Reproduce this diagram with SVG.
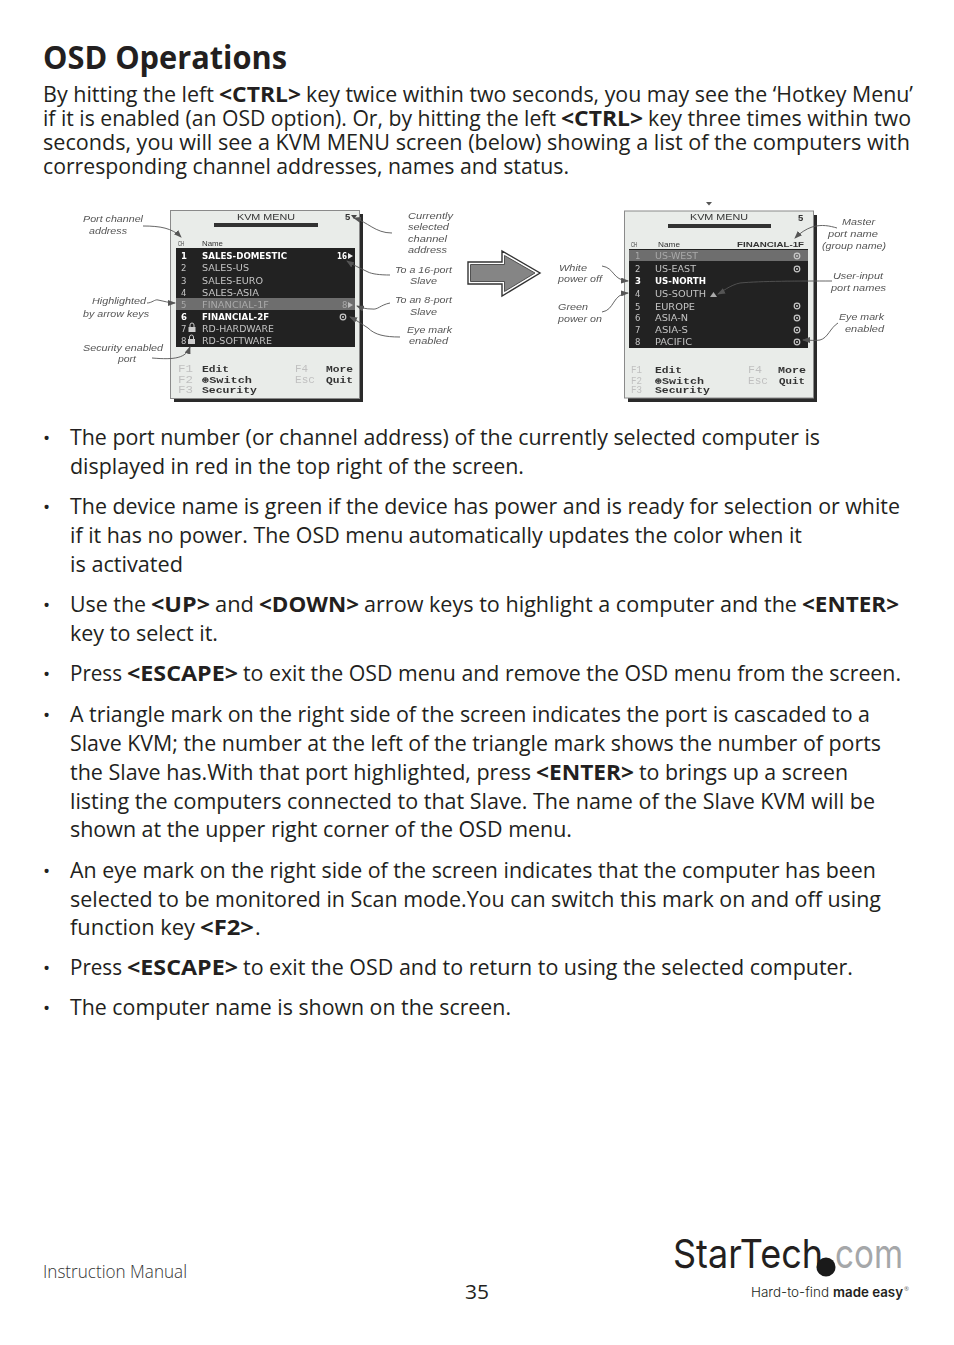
<svg xmlns="http://www.w3.org/2000/svg" width="954" height="1345" viewBox="0 0 954 1345">
<style>
text{font-family:"Open Sans","Noto Sans",sans-serif}
.t{font-size:21.5px;fill:#231f20}
.b{font-weight:700}
.h{font-size:33px;font-weight:700;fill:#231f20}
.bu{font-size:19px;fill:#231f20}
.a{font-family:"Liberation Sans",Arial,sans-serif;font-style:italic;font-size:9.5px;fill:#555}
.s{fill:#e9ece9;stroke:#8a8a8a;stroke-width:1}
.sh{fill:#2a2a2a}
.bk{fill:#222}
.hl{fill:#6e6e6e}
.r{font-family:"DejaVu Sans",sans-serif;font-weight:400;font-size:8.5px;fill:#c4c4c4}
.w{fill:#fff;font-weight:700}
.d{fill:#a9a9a9}
.ti{font-family:"Liberation Sans",Arial,sans-serif;font-size:9.5px;fill:#333}
.sm{font-family:"Liberation Sans",Arial,sans-serif;font-size:8px;fill:#333}
.m{font-family:"Liberation Mono","DejaVu Sans Mono",monospace;font-weight:700;font-size:9.5px;fill:#333}
.g{font-family:"Liberation Mono","DejaVu Sans Mono",monospace;font-size:10px;fill:#c0c0c0}
.c{fill:none;stroke:#555;stroke-width:.9;marker-end:url(#ah)}
.eye{fill:none;stroke:#c8c8c8;stroke-width:1.2}
.eyd{fill:#c8c8c8}
.lg{font-family:Inter,"Open Sans",sans-serif}
</style>
<defs>
<marker id="ah" markerWidth="8" markerHeight="6" refX="7" refY="3" orient="auto" markerUnits="userSpaceOnUse"><path d="M0 0L8 3L0 6Z" fill="#555"/></marker>
<filter id="soft" x="-5%" y="-5%" width="110%" height="110%"><feGaussianBlur stdDeviation="0.45"/></filter>
</defs>
<rect width="954" height="1345" fill="#fff"/>

<g id="body">
<text class="h" x="43" y="69" textLength="244" lengthAdjust="spacingAndGlyphs">OSD Operations</text>
<text class="t" x="43" y="102" textLength="171" lengthAdjust="spacingAndGlyphs">By hitting the left</text>
<text class="t b" x="219" y="102" textLength="82" lengthAdjust="spacingAndGlyphs">&lt;CTRL&gt;</text>
<text class="t" x="306" y="102" textLength="607" lengthAdjust="spacingAndGlyphs">key twice within two seconds, you may see the ‘Hotkey Menu’</text>
<text class="t" x="43" y="126" textLength="513" lengthAdjust="spacingAndGlyphs">if it is enabled (an OSD option). Or, by hitting the left</text>
<text class="t b" x="561" y="126" textLength="82" lengthAdjust="spacingAndGlyphs">&lt;CTRL&gt;</text>
<text class="t" x="648" y="126" textLength="263" lengthAdjust="spacingAndGlyphs">key three times within two</text>
<text class="t" x="43" y="150" textLength="867" lengthAdjust="spacingAndGlyphs">seconds, you will see a KVM MENU screen (below) showing a list of the computers with</text>
<text class="t" x="43" y="174" textLength="526" lengthAdjust="spacingAndGlyphs">corresponding channel addresses, names and status.</text>

<text class="bu" x="43" y="445">•</text>
<text class="t" x="70" y="445" textLength="750" lengthAdjust="spacingAndGlyphs">The port number (or channel address) of the currently selected computer is</text>
<text class="t" x="70" y="474" textLength="454" lengthAdjust="spacingAndGlyphs">displayed in red in the top right of the screen.</text>
<text class="bu" x="43" y="514">•</text>
<text class="t" x="70" y="514" textLength="830" lengthAdjust="spacingAndGlyphs">The device name is green if the device has power and is ready for selection or white</text>
<text class="t" x="70" y="543" textLength="732" lengthAdjust="spacingAndGlyphs">if it has no power. The OSD menu automatically updates the color when it</text>
<text class="t" x="70" y="572" textLength="113" lengthAdjust="spacingAndGlyphs">is activated</text>
<text class="bu" x="43" y="612">•</text>
<text class="t" x="70" y="612" textLength="76" lengthAdjust="spacingAndGlyphs">Use the</text>
<text class="t b" x="151" y="612" textLength="59" lengthAdjust="spacingAndGlyphs">&lt;UP&gt;</text>
<text class="t" x="215" y="612" textLength="39" lengthAdjust="spacingAndGlyphs">and</text>
<text class="t b" x="259" y="612" textLength="100" lengthAdjust="spacingAndGlyphs">&lt;DOWN&gt;</text>
<text class="t" x="364" y="612" textLength="433" lengthAdjust="spacingAndGlyphs">arrow keys to highlight a computer and the</text>
<text class="t b" x="802" y="612" textLength="97" lengthAdjust="spacingAndGlyphs">&lt;ENTER&gt;</text>
<text class="t" x="70" y="641" textLength="148" lengthAdjust="spacingAndGlyphs">key to select it.</text>
<text class="bu" x="43" y="681">•</text>
<text class="t" x="70" y="681" textLength="52" lengthAdjust="spacingAndGlyphs">Press</text>
<text class="t b" x="127" y="681" textLength="111" lengthAdjust="spacingAndGlyphs">&lt;ESCAPE&gt;</text>
<text class="t" x="243" y="681" textLength="658" lengthAdjust="spacingAndGlyphs">to exit the OSD menu and remove the OSD menu from the screen.</text>
<text class="bu" x="43" y="722">•</text>
<text class="t" x="70" y="722" textLength="800" lengthAdjust="spacingAndGlyphs">A triangle mark on the right side of the screen indicates the port is cascaded to a</text>
<text class="t" x="70" y="751" textLength="811" lengthAdjust="spacingAndGlyphs">Slave KVM; the number at the left of the triangle mark shows the number of ports</text>
<text class="t" x="70" y="780" textLength="461" lengthAdjust="spacingAndGlyphs">the Slave has.With that port highlighted, press</text>
<text class="t b" x="536" y="780" textLength="98" lengthAdjust="spacingAndGlyphs">&lt;ENTER&gt;</text>
<text class="t" x="639" y="780" textLength="209" lengthAdjust="spacingAndGlyphs">to brings up a screen</text>
<text class="t" x="70" y="809" textLength="805" lengthAdjust="spacingAndGlyphs">listing the computers connected to that Slave. The name of the Slave KVM will be</text>
<text class="t" x="70" y="837" textLength="502" lengthAdjust="spacingAndGlyphs">shown at the upper right corner of the OSD menu.</text>
<text class="bu" x="43" y="878">•</text>
<text class="t" x="70" y="878" textLength="806" lengthAdjust="spacingAndGlyphs">An eye mark on the right side of the screen indicates that the computer has been</text>
<text class="t" x="70" y="907" textLength="811" lengthAdjust="spacingAndGlyphs">selected to be monitored in Scan mode.You can switch this mark on and off using</text>
<text class="t" x="70" y="935" textLength="125" lengthAdjust="spacingAndGlyphs">function key</text>
<text class="t b" x="200" y="935" textLength="54" lengthAdjust="spacingAndGlyphs">&lt;F2&gt;</text>
<text class="t" x="255" y="935">.</text>
<text class="bu" x="43" y="975">•</text>
<text class="t" x="70" y="975" textLength="52" lengthAdjust="spacingAndGlyphs">Press</text>
<text class="t b" x="127" y="975" textLength="111" lengthAdjust="spacingAndGlyphs">&lt;ESCAPE&gt;</text>
<text class="t" x="243" y="975" textLength="610" lengthAdjust="spacingAndGlyphs">to exit the OSD and to return to using the selected computer.</text>
<text class="bu" x="43" y="1015">•</text>
<text class="t" x="70" y="1015" textLength="441" lengthAdjust="spacingAndGlyphs">The computer name is shown on the screen.</text>
</g>

<g filter="url(#soft)">
<g id="screen-left">
<rect class="sh" x="174" y="214" width="189" height="188"/>
<rect class="s" x="170.500" y="210.500" width="189" height="188"/>
<text class="ti" x="237" y="220" textLength="58" lengthAdjust="spacingAndGlyphs">KVM MENU</text>
<rect x="214" y="223" width="104" height="4" fill="#333"/>
<text class="ti b" x="345" y="220">5</text>
<path d="M351 215h6l-3 4z" fill="#444"/>
<text class="sm" x="178" y="246" textLength="6" lengthAdjust="spacingAndGlyphs">CH</text>
<text class="sm" x="202" y="246" textLength="21" lengthAdjust="spacingAndGlyphs">Name</text>
<rect class="bk" x="176" y="248" width="179" height="99"/>
<rect class="hl" x="176" y="298" width="179" height="12"/>
<text class="r w" x="181" y="259">1</text><text class="r w" x="202" y="259" textLength="85" lengthAdjust="spacingAndGlyphs">SALES-DOMESTIC</text>
<text class="r" x="181" y="271">2</text><text class="r" x="202" y="271" textLength="47" lengthAdjust="spacingAndGlyphs">SALES-US</text>
<text class="r" x="181" y="284">3</text><text class="r" x="202" y="284" textLength="61" lengthAdjust="spacingAndGlyphs">SALES-EURO</text>
<text class="r" x="181" y="296">4</text><text class="r" x="202" y="296" textLength="57" lengthAdjust="spacingAndGlyphs">SALES-ASIA</text>
<text class="r d" x="181" y="308">5</text><text class="r d" x="202" y="308" textLength="67" lengthAdjust="spacingAndGlyphs">FINANCIAL-1F</text>
<text class="r w" x="181" y="320">6</text><text class="r w" x="202" y="320" textLength="67" lengthAdjust="spacingAndGlyphs">FINANCIAL-2F</text>
<text class="r" x="181" y="332">7</text><text class="r" x="202" y="332" textLength="72" lengthAdjust="spacingAndGlyphs">RD-HARDWARE</text>
<text class="r" x="181" y="344">8</text><text class="r" x="202" y="344" textLength="70" lengthAdjust="spacingAndGlyphs">RD-SOFTWARE</text>
<rect x="188.500" y="327" width="7" height="5" fill="#ccc"/><path d="M190 327v-2a2 2 0 0 1 4 0v2" fill="none" stroke="#ccc"/>
<rect x="188" y="339" width="7" height="5" fill="#ccc"/><path d="M189.500 339v-2a2 2 0 0 1 4 0v2" fill="none" stroke="#ccc"/>
<text class="r w" x="337" y="259" textLength="10" lengthAdjust="spacingAndGlyphs">16</text><path d="M348 253l5 3l-5 3z" fill="#eee"/>
<text class="r d" x="342" y="308">8</text><path d="M348 302l5 3l-5 3z" fill="#bbb"/>
<circle class="eye" cx="343" cy="317" r="2.800"/><circle class="eyd" cx="343" cy="317" r="1"/>
<text class="g" x="178" y="372" textLength="15" lengthAdjust="spacingAndGlyphs">F1</text>
<text class="g" x="178" y="383" textLength="15" lengthAdjust="spacingAndGlyphs">F2</text>
<text class="g" x="178" y="393" textLength="15" lengthAdjust="spacingAndGlyphs">F3</text>
<text class="m" x="202" y="372" textLength="27" lengthAdjust="spacingAndGlyphs">Edit</text>
<text class="m" x="202" y="383" textLength="50" lengthAdjust="spacingAndGlyphs">⊛Switch</text>
<text class="m" x="202" y="393" textLength="55" lengthAdjust="spacingAndGlyphs">Security</text>
<text class="g" x="295" y="372" textLength="13" lengthAdjust="spacingAndGlyphs">F4</text>
<text class="g" x="295" y="383" textLength="20" lengthAdjust="spacingAndGlyphs">Esc</text>
<text class="m" x="326" y="372" textLength="27" lengthAdjust="spacingAndGlyphs">More</text>
<text class="m" x="326" y="383" textLength="27" lengthAdjust="spacingAndGlyphs">Quit</text>
</g>

<g id="screen-right">
<path d="M706 202h6l-3 3.500z" fill="#555"/>
<rect class="sh" x="628" y="215" width="189" height="187"/>
<rect class="s" x="624.500" y="211" width="189" height="187"/>
<text class="ti" x="690" y="220" textLength="58" lengthAdjust="spacingAndGlyphs">KVM MENU</text>
<rect x="668" y="224" width="103" height="4" fill="#333"/>
<text class="ti b" x="798" y="221">5</text>
<text class="sm" x="631" y="247" textLength="6" lengthAdjust="spacingAndGlyphs">CH</text>
<text class="sm" x="658" y="247" textLength="22" lengthAdjust="spacingAndGlyphs">Name</text>
<text class="sm b" x="737" y="247" textLength="67" lengthAdjust="spacingAndGlyphs">FINANCIAL-1F</text>
<rect class="bk" x="629" y="249" width="179" height="99"/>
<rect class="hl" x="629" y="250" width="179" height="11"/>
<text class="r d" x="635" y="259">1</text><text class="r d" x="655" y="259" textLength="43" lengthAdjust="spacingAndGlyphs">US-WEST</text>
<text class="r" x="635" y="272">2</text><text class="r" x="655" y="272" textLength="41" lengthAdjust="spacingAndGlyphs">US-EAST</text>
<text class="r w" x="635" y="284">3</text><text class="r w" x="655" y="284" textLength="51" lengthAdjust="spacingAndGlyphs">US-NORTH</text>
<text class="r" x="635" y="297">4</text><text class="r" x="655" y="297" textLength="51" lengthAdjust="spacingAndGlyphs">US-SOUTH</text>
<text class="r" x="635" y="310">5</text><text class="r" x="655" y="310" textLength="40" lengthAdjust="spacingAndGlyphs">EUROPE</text>
<text class="r" x="635" y="321">6</text><text class="r" x="655" y="321" textLength="33" lengthAdjust="spacingAndGlyphs">ASIA-N</text>
<text class="r" x="635" y="333">7</text><text class="r" x="655" y="333" textLength="33" lengthAdjust="spacingAndGlyphs">ASIA-S</text>
<text class="r" x="635" y="345">8</text><text class="r" x="655" y="345" textLength="37" lengthAdjust="spacingAndGlyphs">PACIFIC</text>
<path d="M710 297l3.500-5l3.500 5z" fill="#aaa"/>
<g>
<circle class="eye" cx="797" cy="256" r="2.800"/><circle class="eyd" cx="797" cy="256" r="1"/>
<circle class="eye" cx="797" cy="269" r="2.800"/><circle class="eyd" cx="797" cy="269" r="1"/>
<circle class="eye" cx="797" cy="306" r="2.800"/><circle class="eyd" cx="797" cy="306" r="1"/>
<circle class="eye" cx="797" cy="318" r="2.800"/><circle class="eyd" cx="797" cy="318" r="1"/>
<circle class="eye" cx="797" cy="330" r="2.800"/><circle class="eyd" cx="797" cy="330" r="1"/>
<circle class="eye" cx="797" cy="342" r="2.800"/><circle class="eyd" cx="797" cy="342" r="1"/>
</g>
<text class="g" x="631" y="373" textLength="11" lengthAdjust="spacingAndGlyphs">F1</text>
<text class="g" x="631" y="384" textLength="11" lengthAdjust="spacingAndGlyphs">F2</text>
<text class="g" x="631" y="393" textLength="11" lengthAdjust="spacingAndGlyphs">F3</text>
<text class="m" x="655" y="373" textLength="27" lengthAdjust="spacingAndGlyphs">Edit</text>
<text class="m" x="655" y="384" textLength="49" lengthAdjust="spacingAndGlyphs">⊛Switch</text>
<text class="m" x="655" y="393" textLength="55" lengthAdjust="spacingAndGlyphs">Security</text>
<text class="g" x="748" y="373" textLength="14" lengthAdjust="spacingAndGlyphs">F4</text>
<text class="g" x="748" y="384" textLength="20" lengthAdjust="spacingAndGlyphs">Esc</text>
<text class="m" x="778" y="373" textLength="28" lengthAdjust="spacingAndGlyphs">More</text>
<text class="m" x="779" y="384" textLength="26" lengthAdjust="spacingAndGlyphs">Quit</text>
</g>

<g id="big-arrow">
<path d="M468 262H502V251L540 273L502 296V284H468Z" fill="#fff" stroke="#333" stroke-width="1.400"/>
<path d="M470.500 264.500H504.500V255.500L535 273L504.500 291.500V281.500H470.500Z" fill="#858585" stroke="#444" stroke-width=".9"/>
</g>

<g id="connectors">
<path class="c" d="M143 226C160 226 172 228 181 237"/>
<path class="c" d="M147 303C152 303 155 299 158 300C163 301 170 303 175 303"/>
<path class="c" d="M152 358C175 360 186 358 190 347"/>
<path class="c" d="M392 233C375 233 368 222 354 218"/>
<path class="c" d="M390 275C380 275 372 274 368 272C360 268 353 265 347 261"/>
<path class="c" d="M390 303C380 305 378 310 372 309C366 309 362 308 357 306"/>
<path class="c" d="M400 337C385 337 375 335 368 328C362 324 356 320 350 317"/>
<path class="c" d="M602 266C615 268 612 280 628 281"/>
<path class="c" d="M602 312C615 310 612 294 628 293"/>
<path class="c" d="M837 228C830 226 822 224 812 227C806 229 800 233 795 238"/>
<path class="c" d="M832 281C800 281 760 281 740 283C730 285 722 292 718 294"/>
<path class="c" d="M838 323C830 328 828 338 820 340C815 341 810 340 803 340"/>
</g>

<g id="labels">
<text class="a" x="83" y="222" textLength="60" lengthAdjust="spacingAndGlyphs">Port channel</text>
<text class="a" x="89" y="234" textLength="38" lengthAdjust="spacingAndGlyphs">address</text>
<text class="a" x="92" y="304" textLength="54" lengthAdjust="spacingAndGlyphs">Highlighted</text>
<text class="a" x="83" y="317" textLength="66" lengthAdjust="spacingAndGlyphs">by arrow keys</text>
<text class="a" x="83" y="351" textLength="80" lengthAdjust="spacingAndGlyphs">Security enabled</text>
<text class="a" x="118" y="362" textLength="18" lengthAdjust="spacingAndGlyphs">port</text>
<text class="a" x="408" y="219" textLength="45" lengthAdjust="spacingAndGlyphs">Currently</text>
<text class="a" x="408" y="230" textLength="41" lengthAdjust="spacingAndGlyphs">selected</text>
<text class="a" x="408" y="242" textLength="39" lengthAdjust="spacingAndGlyphs">channel</text>
<text class="a" x="408" y="253" textLength="39" lengthAdjust="spacingAndGlyphs">address</text>
<text class="a" x="395" y="273" textLength="57" lengthAdjust="spacingAndGlyphs">To a 16-port</text>
<text class="a" x="410" y="284" textLength="27" lengthAdjust="spacingAndGlyphs">Slave</text>
<text class="a" x="395" y="303" textLength="57" lengthAdjust="spacingAndGlyphs">To an 8-port</text>
<text class="a" x="410" y="315" textLength="27" lengthAdjust="spacingAndGlyphs">Slave</text>
<text class="a" x="407" y="333" textLength="45" lengthAdjust="spacingAndGlyphs">Eye mark</text>
<text class="a" x="409" y="344" textLength="39" lengthAdjust="spacingAndGlyphs">enabled</text>
<text class="a" x="559" y="271" textLength="28" lengthAdjust="spacingAndGlyphs">White</text>
<text class="a" x="558" y="282" textLength="44" lengthAdjust="spacingAndGlyphs">power off</text>
<text class="a" x="558" y="310" textLength="30" lengthAdjust="spacingAndGlyphs">Green</text>
<text class="a" x="558" y="322" textLength="44" lengthAdjust="spacingAndGlyphs">power on</text>
<text class="a" x="842" y="225" textLength="33" lengthAdjust="spacingAndGlyphs">Master</text>
<text class="a" x="828" y="237" textLength="50" lengthAdjust="spacingAndGlyphs">port name</text>
<text class="a" x="822" y="249" textLength="64" lengthAdjust="spacingAndGlyphs">(group name)</text>
<text class="a" x="833" y="279" textLength="50" lengthAdjust="spacingAndGlyphs">User-input</text>
<text class="a" x="831" y="291" textLength="55" lengthAdjust="spacingAndGlyphs">port names</text>
<text class="a" x="839" y="320" textLength="45" lengthAdjust="spacingAndGlyphs">Eye mark</text>
<text class="a" x="845" y="332" textLength="39" lengthAdjust="spacingAndGlyphs">enabled</text>
</g>
</g>

<g id="footer">
<text x="43" y="1278" font-size="17.500" font-weight="300" fill="#333" textLength="144" lengthAdjust="spacingAndGlyphs">Instruction Manual</text>
<text x="465" y="1299" font-size="20" fill="#231f20" textLength="24" lengthAdjust="spacingAndGlyphs">35</text>
</g>

<g id="logo">
<text class="lg" x="673" y="1268" font-size="40" font-weight="400" fill="#231f20" textLength="150" lengthAdjust="spacingAndGlyphs">StarTech</text>
<circle cx="826" cy="1267" r="9.500" fill="#1a1a1a"/>
<text class="lg" x="835" y="1268" font-size="40" font-weight="400" fill="#a5a7a9" textLength="68" lengthAdjust="spacingAndGlyphs">com</text>
<text class="lg" x="751" y="1297" font-size="13.500" font-weight="300" fill="#231f20" textLength="78" lengthAdjust="spacingAndGlyphs">Hard-to-find</text>
<text class="lg" x="833" y="1297" font-size="13.500" font-weight="600" fill="#231f20" textLength="70" lengthAdjust="spacingAndGlyphs">made easy</text>
<text x="904" y="1291" font-size="6" fill="#666">®</text>
</g>
</svg>
